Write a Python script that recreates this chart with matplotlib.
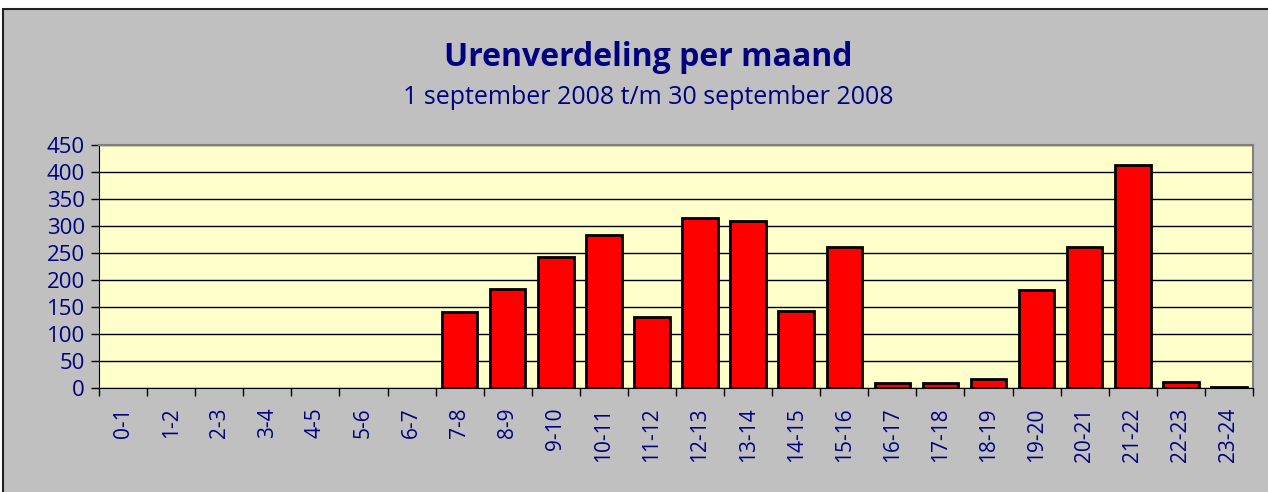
import numpy as np
import matplotlib.pyplot as plt
from matplotlib.patches import Rectangle

plt.rcParams['font.family'] = ['Open Sans', 'DejaVu Sans']

# data
uren = ['0-1', '1-2', '2-3', '3-4', '4-5', '5-6', '6-7', '7-8', '8-9', '9-10',
        '10-11', '11-12', '12-13', '13-14', '14-15', '15-16', '16-17', '17-18',
        '18-19', '19-20', '20-21', '21-22', '22-23', '23-24']
aantal = [0, 0, 0, 0, 0, 0, 0, 140, 183, 243, 283, 132, 315, 310, 142, 261,
          10, 10, 17, 181, 261, 413, 12, 2]
y_ticks = [0, 50, 100, 150, 200, 250, 300, 350, 400, 450]

navy = '#000080'
W, H = 1268, 492
fig = plt.figure(figsize=(W / 100, H / 100), dpi=100)
fig.patch.set_facecolor('white')
# grey chart area with dark frame
fig.patches.append(Rectangle((3 / W, -0.01), 1.02 - 3 / W, 1.01 - 9 / H,
                             transform=fig.transFigure, facecolor='#C0C0C0',
                             edgecolor='#202020', linewidth=1.5, zorder=-10))

ax = fig.add_axes([99 / W, 1 - 388 / H, (1253 - 99) / W, (388 - 145) / H])
ax.set_facecolor('#FFFFCC')

x = np.arange(len(uren))
lw = [2 if v > 0 else 0 for v in aantal]  # no outline for empty hours
ax.bar(x, aantal, width=0.74, color='#FF0000', edgecolor='black', linewidth=lw, zorder=3)

ax.set_xlim(-0.5, len(uren) - 0.5)
ax.set_ylim(0, 450)
ax.set_yticks(y_ticks)
ax.set_yticklabels([str(v) for v in y_ticks], color=navy, fontsize=16)
ax.yaxis.grid(True, color='black', linewidth=1, zorder=1)

ax.set_xticks(x)
ax.set_xticklabels(uren, rotation=90, color=navy, fontsize=15)
ax.set_xticks(np.arange(len(uren) + 1) - 0.5, minor=True)
ax.tick_params(axis='x', which='major', length=0, pad=14)
ax.tick_params(axis='x', which='minor', length=6, width=1, color='black')
ax.tick_params(axis='y', length=6, width=1, color='black', pad=4)

for s in ['top', 'right']:
    ax.spines[s].set_color('#808080')
    ax.spines[s].set_linewidth(1.5)
ax.spines['bottom'].set_color('black')
ax.spines['left'].set_color('black')

fig.text(0.511, 0.884, 'Urenverdeling per maand', ha='center', va='center',
         fontsize=23, fontweight='bold', color=navy)
fig.text(0.511, 0.801, '1 september 2008 t/m 30 september 2008', ha='center',
         va='center', fontsize=18, color=navy)

fig.savefig('out.png', dpi=100)
